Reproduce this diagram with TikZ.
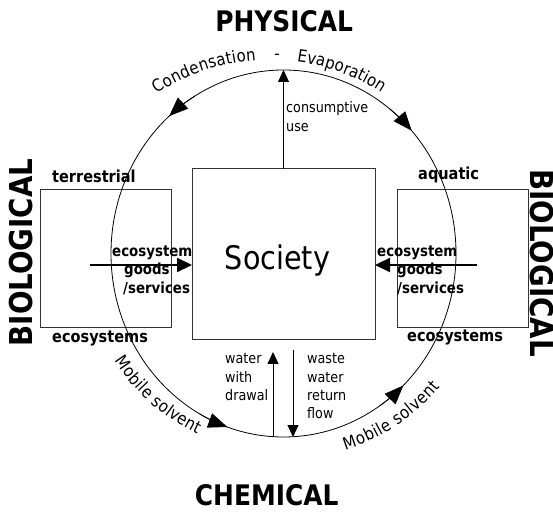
\documentclass[tikz,border=0pt]{standalone}
\usepackage{fontspec}
\newfontfamily\tah[FakeStretch=0.88]{DejaVu Sans}
\newcommand\cyclefont{\tah\fontsize{17}{17}\selectfont}
\usetikzlibrary{arrows.meta,shapes.geometric,decorations.text,calc}

\begin{document}
\begin{tikzpicture}[x=1pt,y=1pt,
  box/.style={draw=black!80, line width=1pt, inner sep=0pt, outer sep=0pt},
  heading/.style={font=\tah\bfseries\fontsize{28.3}{30}\selectfont, inner sep=0pt},
  sidehead/.style={font=\tah\bfseries\fontsize{31.5}{33}\selectfont, inner sep=0pt},
  lbl/.style={font=\tah\bfseries\fontsize{16.5}{18}\selectfont, inner sep=0pt, anchor=base west},
  eco/.style={font=\tah\bfseries\fontsize{15.2}{18.3}\selectfont, inner sep=0pt, anchor=base west},
  note/.style={font=\tah\fontsize{14.5}{18.3}\selectfont, inner sep=0pt, anchor=base west},
  flow/.style={line width=2.2pt, -{Triangle[length=15pt,width=14pt]}},
  water/.style={line width=1pt, -{Triangle[length=12pt,width=11pt]}},
  cyctip/.style={line width=0.8pt, -{Triangle[length=19pt,width=15pt]}},
  arctext/.style={decorate, decoration={text along path, text align={fit to path}, text={#1}}},
]
\useasboundingbox (0,0) rectangle (553,511);

% boxes
\node[box, minimum width=183pt, minimum height=171pt] (soc) at (283.5,256.5) {};
\node[font=\tah\fontsize{32.5}{34}\selectfont, anchor=base, inner sep=0pt] (soctxt) at (277.5,241.7) {Society};
\node[box, minimum width=131pt, minimum height=138pt] (terr) at (105.5,252) {};
\node[box, minimum width=131pt, minimum height=138pt] (aqua) at (462.5,252) {};

% the water cycle
\node[draw, line width=0.8pt, ellipse, minimum width=345pt, minimum height=367pt,
      inner sep=0pt, outer sep=0pt] (cyc) at (283.5,257.5) {};

% arrowheads on the cycle
\draw[cyctip] ([shift={(121:172.5pt and 183.5pt)}]cyc.center)
  arc[start angle=121, end angle=131.5, x radius=172.5pt, y radius=183.5pt];
\draw[cyctip] ([shift={(52:172.5pt and 183.5pt)}]cyc.center)
  arc[start angle=52, end angle=42, x radius=172.5pt, y radius=183.5pt];
\draw[cyctip] ([shift={(241:172.5pt and 183.5pt)}]cyc.center)
  arc[start angle=241, end angle=251, x radius=172.5pt, y radius=183.5pt];
\draw[cyctip] ([shift={(304:172.5pt and 183.5pt)}]cyc.center)
  arc[start angle=304, end angle=314, x radius=172.5pt, y radius=183.5pt];

% headings
\node[heading] (phys) at (284.2,489.3) {PHYSICAL};
\node[heading] (chem) at (266.7,16) {CHEMICAL};
\node[sidehead, rotate=90] (bioL) at (21,258.5) {BIOLOGICAL};
\node[sidehead, rotate=-90] (bioR) at (541.5,248) {BIOLOGICAL};

% box labels
\node[lbl] (terrlbl) at (52,328.7) {terrestrial};
\node[lbl] (terreco) at (52,168.3) {ecosystems};
\node[lbl] (aqualbl) at (418,331.5) {aquatic};
\node[lbl] (aquaeco) at (407,169.3) {ecosystems};

% flow labels
\node[eco] (gsL) at (112,254.3)
  {\begin{tabular}[t]{@{}l@{}}ecosystem\\\hspace*{12pt}goods\\\hspace*{11pt}/services\end{tabular}};
\node[eco] (gsR) at (377,254.3)
  {\begin{tabular}[t]{@{}l@{}}ecosystem\\\hspace*{20pt}goods\\\hspace*{20pt}/services\end{tabular}};
\node[note] (cons) at (286,398)
  {\begin{tabular}[t]{@{}l@{}}consumptive\\use\end{tabular}};
\node[note] (wdl) at (225,147)
  {\begin{tabular}[t]{@{}l@{}}water\\with\\drawal\end{tabular}};
\node[note] (rfl) at (307,147)
  {\begin{tabular}[t]{@{}l@{}}waste\\water\\return\\flow\end{tabular}};

% text along the cycle
\coordinate (topc) at (269.8,245.8);
\path[arctext={|\cyclefont|Condensation}] ([shift={(123.5:205.3pt)}]topc)
  arc[start angle=123.5, end angle=93.8, radius=205.3pt];
\node[font=\cyclefont, inner sep=0pt] (hyph) at (277,454) {-};
\path[arctext={|\cyclefont|Evaporation}] ([shift={(82.4:205.3pt)}]topc)
  arc[start angle=82.4, end angle=57, radius=205.3pt];
\path[arctext={|\cyclefont|Mobile solvent}] ([shift={(212.4:200pt)}]cyc.center)
  arc[start angle=212.4, end angle=244.5, radius=200pt];
\path[arctext={|\cyclefont|Mobile solvent}] ([shift={(287.5:206pt)}]cyc.center)
  arc[start angle=287.5, end angle=319.5, radius=206pt];

% connectors
\coordinate (gL) at (90,246);
\coordinate (gR) at (477,246);
\draw[flow] (gL) -- (gL -| soc.west);
\draw[flow] (gR) -- (gR -| soc.east);
\draw[water] (soc.north) -- (cyc.north);
\coordinate (wdTop) at (273,159);
\coordinate (rfTop) at (293,161);
\draw[water] (wdTop |- cyc.south) -- (wdTop);
\draw[water] (rfTop) -- (rfTop |- cyc.south);
\end{tikzpicture}
\end{document}
